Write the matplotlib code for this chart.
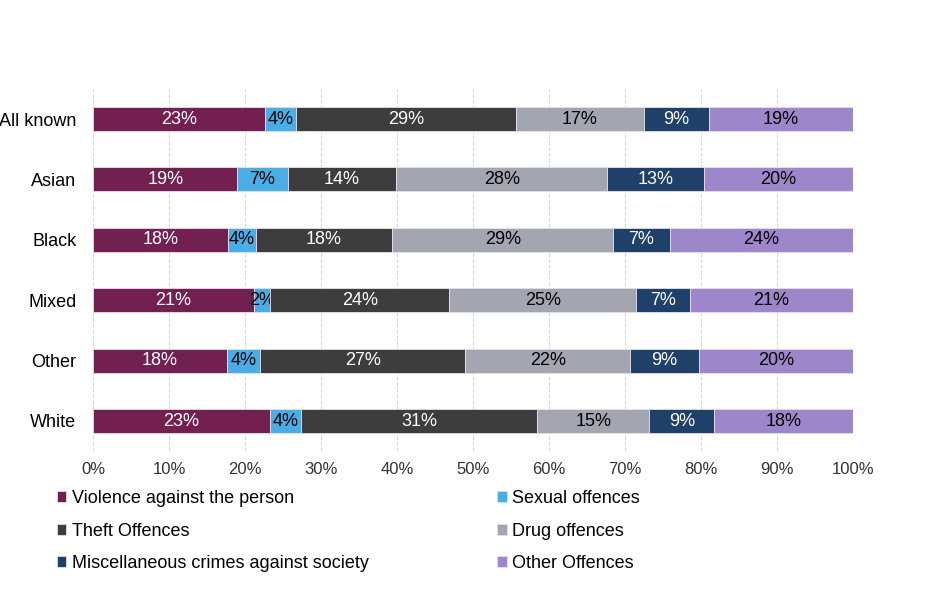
import matplotlib.pyplot as plt
import numpy as np

plt.rcParams['font.family'] = ['Liberation Sans', 'DejaVu Sans']

groups = ['All known', 'Asian', 'Black', 'Mixed', 'Other', 'White']
offences = ['Violence against the person', 'Sexual offences', 'Theft Offences',
            'Drug offences', 'Miscellaneous crimes against society', 'Other Offences']

# share of each offence group (%)
violence = [22.6, 19.0, 17.8, 21.2, 17.6, 23.3]
sexual   = [4.1, 6.6, 3.6, 2.1, 4.4, 4.1]
theft    = [29.0, 14.3, 18.0, 23.6, 27.0, 31.1]
drug     = [16.8, 27.8, 29.1, 24.6, 21.7, 14.7]
misc     = [8.6, 12.7, 7.4, 7.1, 9.1, 8.6]
other    = [18.9, 19.6, 24.1, 21.4, 20.2, 18.2]

series = [violence, sexual, theft, drug, misc, other]
colors = ['#72204f', '#4aaee6', '#3d3d3d', '#a3a5b1', '#1f4068', '#9e86cb']
txt_colors = ['white', 'black', 'white', 'black', 'white', 'black']

fig = plt.figure(figsize=(9.37, 6), dpi=100)
ax = fig.add_axes([0.0993, 0.248, 0.8107, 0.604])

y = np.arange(len(groups))
left = np.zeros(len(groups))
for vals, name, c, tc in zip(series, offences, colors, txt_colors):
    bars = ax.barh(y, vals, left=left, height=0.4, color=c, label=name,
                   edgecolor='#e6e0ee', linewidth=0.6, zorder=3)
    ax.bar_label(bars, labels=[f'{v:.0f}%' for v in vals], label_type='center',
                 color=tc, fontsize=13)
    left += np.array(vals)

ax.set_ylim(5.5, -0.5)
ax.set_xlim(0, 100)
ax.set_yticks(y)
ax.set_yticklabels(groups, fontsize=13)
ax.set_xticks(np.arange(0, 101, 10))
ax.set_xticklabels([f'{t}%' for t in range(0, 101, 10)], fontsize=12, color='#333333')
ax.tick_params(length=0, pad=8)
ax.tick_params(axis='y', pad=12)
ax.grid(axis='x', linestyle='--', color='#d9d9d9', linewidth=0.8, zorder=0)
for s in ax.spines.values():
    s.set_visible(False)

# legend fills row by row in the reference
handles, labels = ax.get_legend_handles_labels()
order = [0, 2, 4, 1, 3, 5]
fig.legend([handles[i] for i in order], [labels[i] for i in order], ncol=2,
           loc='upper left', bbox_to_anchor=(0.043, 0.21),
           frameon=False, fontsize=13, handlelength=0.55, handleheight=0.55,
           handletextpad=0.3, columnspacing=7.1, labelspacing=0.85)

fig.savefig('out.png', dpi=100)
